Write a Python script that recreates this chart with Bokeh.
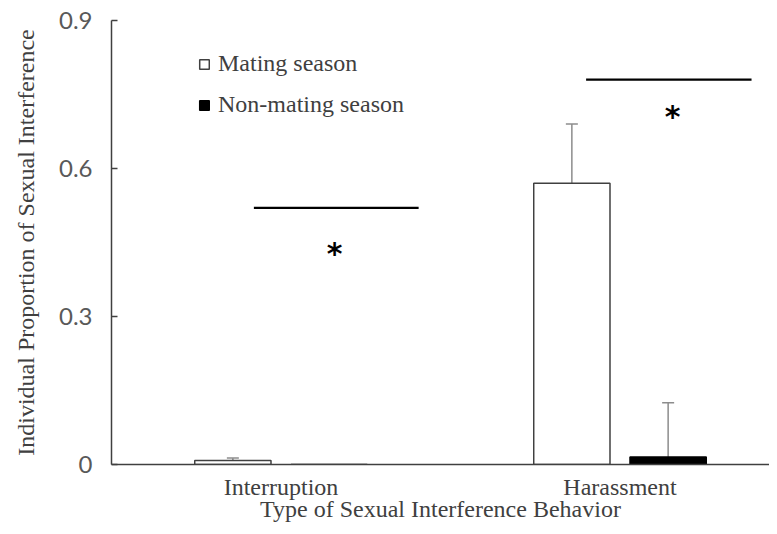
from bokeh.plotting import figure
from bokeh.models import Range1d, FixedTicker, Whisker, ColumnDataSource, Legend, LegendItem, TeeHead
from bokeh.core.properties import value
from bokeh.embed import file_html
from bokeh.resources import INLINE

# ---- data ----
categories = ["Interruption", "Harassment"]
mating = [0.008, 0.57]
mating_err = [0.005, 0.12]
non_mating = [0.0, 0.015]
non_mating_err = [0.0, 0.11]
y_ticks = [0.0, 0.3, 0.6, 0.9]
y_tick_labels = ["0", "0.3", "0.6", "0.9"]
x_title = "Type of Sexual Interference Behavior"
y_title = "Individual Proportion of Sexual Interference"
# significance annotations (data units)
sig_x0 = [0.42, 1.40]
sig_x1 = [0.906, 1.888]
sig_y = [0.52, 0.78]
star_x = [0.658, 1.655]
star_y = [0.428, 0.705]
star_text = ["*", "*"]

cat_pos = [i + 0.5 for i in range(len(categories))]
bar_w = 0.225
off = 0.142

serif = "Liberation Serif"
dark = "#404040"
fs = "24px"

p = figure(width=769, height=526,
           x_range=Range1d(0, 658 / 339), y_range=Range1d(0, 0.9),
           output_backend="svg", toolbar_location=None,
           min_border_left=111, min_border_right=0,
           min_border_top=20, min_border_bottom=62)
p.outline_line_color = None
p.xgrid.visible = False
p.ygrid.visible = False
p.background_fill_color = "white"
p.border_fill_color = "white"

xm = [c - off for c in cat_pos]
xn = [c + off for c in cat_pos]
r1 = p.vbar(x=xm, top=mating, width=bar_w, fill_color="white",
            line_color=dark, line_width=1.5)
r2 = p.vbar(x=xn, top=non_mating, width=bar_w, fill_color="black",
            line_color="black", line_width=1.5)

# error bars (only where there is an error)
ex, elo, ehi = [], [], []
for xs, vals, errs in ((xm, mating, mating_err), (xn, non_mating, non_mating_err)):
    for x, v, e in zip(xs, vals, errs):
        if e > 0:
            ex.append(x); elo.append(v); ehi.append(v + e)
esrc = ColumnDataSource(dict(x=ex, lower=elo, upper=ehi))
w = Whisker(base="x", lower="lower", upper="upper", source=esrc,
            line_color="#8c8c8c", line_width=1.5,
            upper_head=TeeHead(size=12, line_color="#8c8c8c", line_width=1.5),
            lower_head=None)
p.add_layout(w)

p.segment(x0=sig_x0, y0=sig_y, x1=sig_x1, y1=sig_y, line_color="black", line_width=2.2)
p.text(x=star_x, y=star_y, text=star_text, text_font=value("DejaVu Sans"),
       text_font_style="bold", text_font_size="30px", text_align="center",
       text_baseline="middle", text_color="black")

# axes
p.xaxis.ticker = FixedTicker(ticks=cat_pos)
p.xaxis.major_label_overrides = {c: n for c, n in zip(cat_pos, categories)}
p.xaxis.major_tick_in = 0
p.xaxis.major_tick_out = 0
p.xaxis.minor_tick_line_color = None
p.xaxis.axis_line_color = dark
p.xaxis.axis_line_width = 1.5
p.xaxis.major_label_text_font = serif
p.xaxis.major_label_text_font_size = fs
p.xaxis.major_label_text_color = dark
p.xaxis.major_label_standoff = 9
p.xaxis.axis_label = x_title
p.xaxis.axis_label_text_font = serif
p.xaxis.axis_label_text_font_size = fs
p.xaxis.axis_label_text_font_style = "normal"
p.xaxis.axis_label_text_color = dark
p.xaxis.axis_label_standoff = -7

p.yaxis.ticker = FixedTicker(ticks=y_ticks)
p.yaxis.major_label_overrides = {t: l for t, l in zip(y_ticks, y_tick_labels)}
p.yaxis.major_tick_in = 6
p.yaxis.major_tick_out = 0
p.yaxis.major_tick_line_color = dark
p.yaxis.major_tick_line_width = 1.5
p.yaxis.minor_tick_line_color = None
p.yaxis.axis_line_color = dark
p.yaxis.axis_line_width = 1.5
p.yaxis.major_label_text_font = "Lato"
p.yaxis.major_label_text_font_size = fs
p.yaxis.major_label_text_color = "#595959"
p.yaxis.major_label_standoff = 19
p.yaxis.axis_label = y_title
p.yaxis.axis_label_text_font = serif
p.yaxis.axis_label_text_font_size = fs
p.yaxis.axis_label_text_font_style = "normal"
p.yaxis.axis_label_text_color = dark
p.yaxis.axis_label_standoff = 17

legend = Legend(items=[LegendItem(label="Mating season", renderers=[r1]),
                       LegendItem(label="Non-mating season", renderers=[r2])],
                location=(87, 346), orientation="vertical",
                border_line_color=None, background_fill_alpha=0,
                padding=0, margin=0, spacing=14,
                glyph_width=12, glyph_height=12, label_standoff=8,
                label_text_font=serif, label_text_font_size=fs,
                label_text_color=dark, label_height=24)
p.add_layout(legend)

open("out.html", "w").write(file_html(p, INLINE))
